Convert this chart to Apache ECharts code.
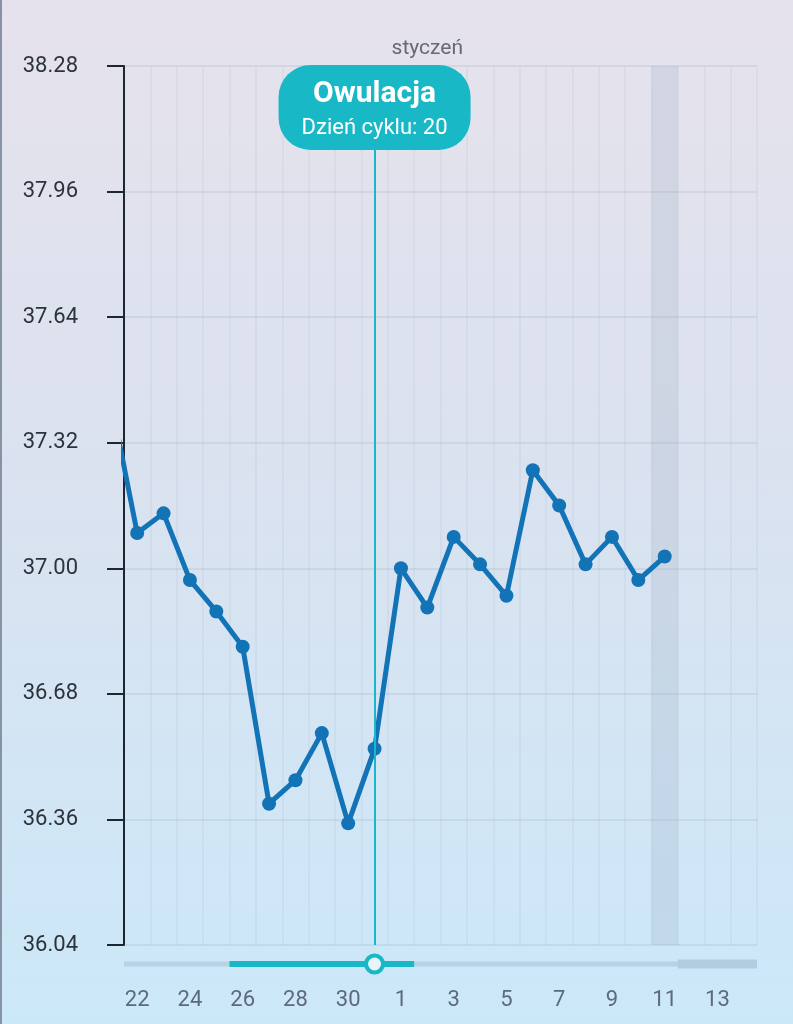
<!DOCTYPE html>
<html><head><meta charset="utf-8">
<script src="https://cdn.jsdelivr.net/npm/echarts@6/dist/echarts.min.js"></script>
<style>
html,body{margin:0;padding:0;width:793px;height:1024px;overflow:hidden}
body{background:linear-gradient(180deg,#e6e2ed 0%,#dbe2ef 45%,#cbe8f9 100%);}
#c{position:absolute;left:0;top:0;width:793px;height:1024px;}
#edge{position:absolute;left:0;top:0;width:2px;height:1024px;background:#8593a3;}
</style></head><body><div id="c"></div><div id="edge"></div>
<script>
// x categories (Dec 22 .. Jan 14)
const dayLabels = ['22','23','24','25','26','27','28','29','30','31','1','2','3','4','5','6','7','8','9','10','11','12','13','14'];
// temperatures from Dec 21 (index -1, partly off-screen) to Jan 11 (index 20)
const firstTempIndex = -1;
const temps = [37.43, 37.09, 37.14, 36.97, 36.89, 36.80, 36.40, 36.46, 36.58, 36.35, 36.54, 37.00, 36.90, 37.08, 37.01, 36.93, 37.25, 37.16, 37.01, 37.08, 36.97, 37.03];
const yTickLabels = ['36.04','36.36','36.68','37.00','37.32','37.64','37.96','38.28'];
const Y_MIN = 36.04, Y_STEP = 0.32;
const monthLabel = 'styczeń';
const monthLabelIndex = 11;
const ovulationIndex = 9;
const ovulationTitle = 'Owulacja';
const cycleDayText = 'Dzień cyklu: 20';
const fertileStart = 4, fertileEnd = 10;
const todayIndex = 20;

const X_MIN = -0.5, X_MAX = dayLabels.length - 0.5;
const lineData = temps.map((t, i) => [firstTempIndex + i, (t - Y_MIN) / Y_STEP]);
const TEAL = '#18b8c7';
const FONT = 'Roboto';

const chart = echarts.init(document.getElementById('c'), null, {renderer: 'canvas'});
chart.setOption({
  backgroundColor: 'transparent',
  animation: false,
  grid: {left: 124, right: 36, top: 66, bottom: 79, containLabel: false},
  xAxis: [{
    type: 'category', data: dayLabels, boundaryGap: true, gridIndex: 0,
    axisLine: {show: false}, axisTick: {show: false},
    axisLabel: {interval: 1, color: '#5d6b79', fontSize: 22, fontFamily: FONT, margin: 44},
    splitLine: {show: true, interval: 0, lineStyle: {color: 'rgba(110,125,150,0.07)', width: 2}}
  }, {
    type: 'value', min: X_MIN, max: X_MAX, show: false, gridIndex: 0
  }],
  yAxis: {
    type: 'value', min: 0, max: yTickLabels.length - 1, interval: 1,
    axisLine: {show: true, onZero: false, lineStyle: {color: '#1d2731', width: 2}},
    axisTick: {show: true, length: 17, lineStyle: {color: '#1d2731', width: 2}},
    axisLabel: {formatter: v => yTickLabels[Math.round(v)], color: '#2c333b', fontSize: 22, fontFamily: FONT, margin: 46},
    splitLine: {show: true, lineStyle: {color: 'rgba(110,125,150,0.12)', width: 2}}
  },
  series: [{
    type: 'line', xAxisIndex: 1, data: [], z: 1, silent: true,
    markLine: {symbol: 'none', silent: true, label: {show: false},
      lineStyle: {color: TEAL, width: 2, type: 'solid'},
      data: [{xAxis: ovulationIndex}]},
    markArea: {silent: true, itemStyle: {color: 'rgba(140,155,180,0.18)'},
      data: [[{xAxis: todayIndex - 0.5}, {xAxis: todayIndex + 0.5}]]}
  }, {
    type: 'line', xAxisIndex: 1, data: lineData, z: 3, clip: true,
    symbol: 'circle', symbolSize: 14,
    lineStyle: {color: '#1273b7', width: 5},
    itemStyle: {color: '#1273b7'}
  }, {
    type: 'custom', xAxisIndex: 1, z: 10, clip: false, silent: true,
    data: [[0, 0]],
    renderItem: function (params, api) {
      const X = v => api.coord([v, 0])[0];
      const yBottom = api.coord([0, 0])[1];
      const yTop = api.coord([0, yTickLabels.length - 1])[1];
      const ox = X(ovulationIndex);
      const sy = yBottom + 19;
      return {type: 'group', children: [
        {type: 'rect', shape: {x: X(X_MIN), y: sy - 2.5, width: X(X_MAX) - X(X_MIN), height: 5}, style: {fill: '#b7d2e4'}},
        {type: 'rect', shape: {x: X(todayIndex + 0.5), y: sy - 4.5, width: X(X_MAX) - X(todayIndex + 0.5), height: 9}, style: {fill: '#b3cde0'}},
        {type: 'rect', shape: {x: X(fertileStart - 0.5), y: sy - 3, width: X(fertileEnd + 0.5) - X(fertileStart - 0.5), height: 6}, style: {fill: TEAL}},
        {type: 'circle', shape: {cx: ox, cy: sy, r: 8.5}, style: {fill: '#e4f5fb', stroke: TEAL, lineWidth: 4}},
        {type: 'rect', shape: {x: ox - 96, y: yTop - 1, width: 192, height: 85, r: 32}, style: {fill: TEAL}},
        {type: 'text', style: {x: ox, y: yTop + 28, text: ovulationTitle, fill: '#ffffff', font: 'bold 30px Roboto', align: 'center', verticalAlign: 'middle'}},
        {type: 'text', style: {x: ox, y: yTop + 62, text: cycleDayText, fill: '#ffffff', font: '22px Roboto', align: 'center', verticalAlign: 'middle'}},
        {type: 'text', style: {x: X(monthLabelIndex), y: yTop - 17, text: monthLabel, fill: '#666a72', font: '21px Roboto', align: 'center', verticalAlign: 'middle'}}
      ]};
    }
  }]
});
</script></body></html>
